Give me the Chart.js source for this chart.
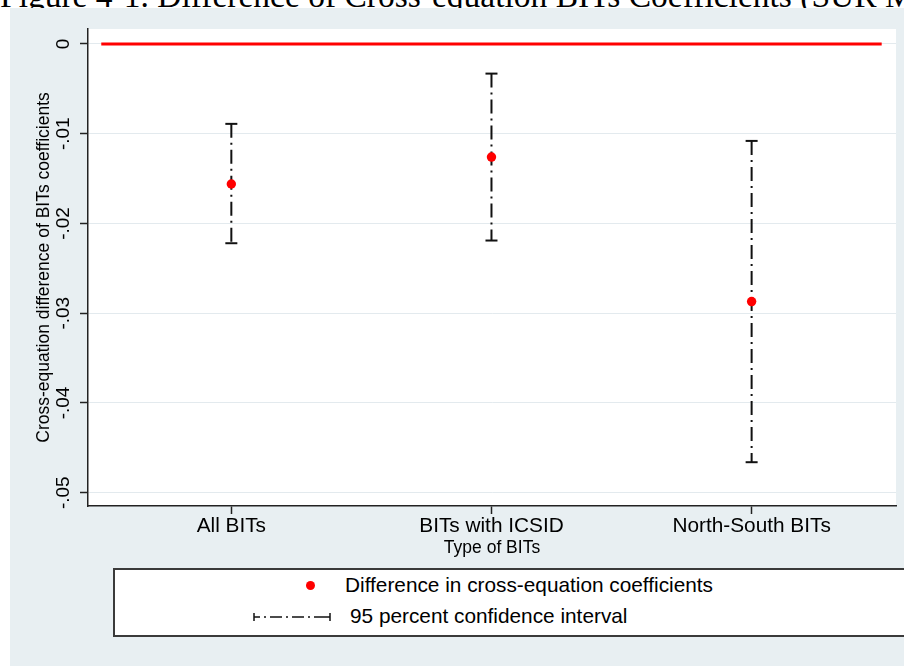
<!DOCTYPE html>
<html>
<head>
<meta charset="utf-8">
<script src="https://cdn.jsdelivr.net/npm/chart.js@4.4.1/dist/chart.umd.min.js"></script>
<style>
  html, body { margin:0; padding:0; background:#fff; width:904px; height:666px; overflow:hidden; }
  #title { position:absolute; left:0px; top:-21px; font-family:"Liberation Serif","Times New Roman",serif; font-size:33.5px; line-height:34px; white-space:nowrap; color:#000; z-index:0; }
  #cv { position:absolute; left:0; top:0; z-index:1; }
  .lg { position:absolute; z-index:2; }
  #legendBox { left:113px; top:568px; width:797px; height:69px; box-sizing:border-box; border:2px solid #3a3a3a; background:#fff; }
  .lgtext { font-family:"Liberation Sans", Arial, sans-serif; font-size:20.8px; line-height:20.8px; color:#000; white-space:nowrap; }
  #dot { width:9px; height:9px; border-radius:50%; background:#f00; left:306px; top:581px; }
</style>
</head>
<body>
<div id="title">Figure 4-1. Difference of Cross-equation BITs Coefficients (SUR Model)</div>
<canvas id="cv" width="904" height="666"></canvas>
<div id="legendBox" class="lg"></div>
<div id="dot" class="lg"></div>
<div class="lg lgtext" id="lt1" style="left:345px; top:575px;"></div>
<svg class="lg" style="left:252px; top:610px;" width="80" height="14">
  <line x1="2" y1="3" x2="2" y2="11" stroke="#111" stroke-width="1.5"/>
  <line x1="2" y1="7" x2="78" y2="7" stroke="#111" stroke-width="1.5" stroke-dasharray="6 4 2 4 12 4 2 4 12 4 2 4 20"/>
  <line x1="78" y1="3" x2="78" y2="11" stroke="#111" stroke-width="1.5"/>
</svg>
<div class="lg lgtext" id="lt2" style="left:350px; top:606px;"></div>
<script>
// ---- data ----
const categories = ["All BITs", "BITs with ICSID", "North-South BITs"];
const xPositions = [1, 2, 3];
const estimates  = [-0.0156, -0.0126, -0.0287];
const ciUpper    = [-0.0089, -0.0033, -0.0108];
const ciLower    = [-0.0222, -0.0219, -0.0466];
const zeroLineX  = [0.5, 3.5];
const zeroLineY  = [0, 0];
const yTickValues = [0, -0.01, -0.02, -0.03, -0.04, -0.05];
const yTickLabels = ["0", "-.01", "-.02", "-.03", "-.04", "-.05"];
const seriesNames = ["Difference in cross-equation coefficients", "95 percent confidence interval"];
const xTitle = "Type of BITs";
const yTitle = "Cross-equation difference of BITs coefficients";

document.getElementById('lt1').textContent = seriesNames[0];
document.getElementById('lt2').textContent = seriesNames[1];

const FIG_BG = '#e8eff2';
const FONT = '"Liberation Sans", Arial, sans-serif';

const bgPlugin = {
  id: 'bg',
  beforeDraw(chart) {
    const { ctx, chartArea: a } = chart;
    ctx.save();
    ctx.fillStyle = FIG_BG;
    ctx.fillRect(10, 8, 894, 658);
    ctx.fillStyle = '#fff';
    ctx.fillRect(a.left, a.top, a.right - a.left, a.bottom - a.top);
    ctx.restore();
  },
  afterDraw(chart) {
    const { ctx } = chart;
    const ys = chart.scales.y;
    ctx.save();
    ctx.fillStyle = '#000';
    ctx.font = '19px ' + FONT;
    ctx.textAlign = 'center';
    ctx.textBaseline = 'middle';
    yTickValues.forEach((v, i) => {
      const py = ys.getPixelForValue(v);
      ctx.save();
      ctx.translate(64, py);
      ctx.rotate(-Math.PI / 2);
      ctx.fillText(yTickLabels[i], 0, 0);
      ctx.restore();
    });
    ctx.restore();
  }
};

const datasets = [];
datasets.push({
  label: seriesNames[0],
  data: xPositions.map((x, i) => ({ x: x, y: estimates[i] })),
  pointRadius: 4.7,
  pointBackgroundColor: '#f00',
  pointBorderWidth: 0,
  showLine: false
});
xPositions.forEach((x, i) => {
  datasets.push({
    label: seriesNames[1],
    data: [{ x: x, y: ciUpper[i] }, { x: x, y: ciLower[i] }],
    showLine: true,
    borderColor: '#111',
    borderWidth: 2,
    borderDash: [14, 5, 2, 5],
    pointStyle: 'line',
    pointRadius: 6,
    pointBorderWidth: 2,
    pointBorderColor: '#111'
  });
});
datasets.push({
  label: 'zero',
  data: zeroLineX.map((x, i) => ({ x: x, y: zeroLineY[i] })),
  showLine: true,
  borderColor: '#f00',
  borderWidth: 3,
  pointRadius: 0
});

new Chart(document.getElementById('cv'), {
  type: 'scatter',
  data: { datasets },
  plugins: [bgPlugin],
  options: {
    responsive: false,
    animation: false,
    events: [],
    layout: { padding: { left: 0, top: 29, right: 6, bottom: 104 } },
    plugins: { legend: { display: false }, tooltip: { enabled: false } },
    scales: {
      x: {
        type: 'linear',
        min: 0.449,
        max: 3.555,
        afterBuildTicks: s => { s.ticks = xPositions.map(v => ({ value: v })); },
        afterFit: s => { s.height = 56; },
        ticks: {
          callback: (v, i) => categories[i],
          font: { family: FONT, size: 20.8 },
          color: '#000',
          padding: 0,
          maxRotation: 0,
          autoSkip: false
        },
        grid: { drawOnChartArea: false, drawTicks: true, tickLength: 8, tickColor: '#222', tickWidth: 1.5 },
        border: { display: true, color: '#222', width: 1.5 },
        title: { display: true, text: xTitle, font: { family: FONT, size: 17.5 }, color: '#000', padding: { top: 0, bottom: 3.5 } }
      },
      y: {
        type: 'linear',
        min: -0.05148,
        max: 0.00167,
        afterBuildTicks: s => { s.ticks = yTickValues.map(v => ({ value: v })); },
        afterFit: s => { s.width = 88; },
        ticks: { display: false },
        grid: { drawOnChartArea: true, color: '#e3eaee', lineWidth: 1, drawTicks: true, tickLength: 8, tickColor: '#222', tickWidth: 1.5 },
        border: { display: true, color: '#222', width: 1.5 },
        title: { display: true, text: yTitle, font: { family: FONT, size: 17.5 }, color: '#000', padding: { top: 33.5, bottom: 0 } }
      }
    }
  }
});
</script>
</body>
</html>
